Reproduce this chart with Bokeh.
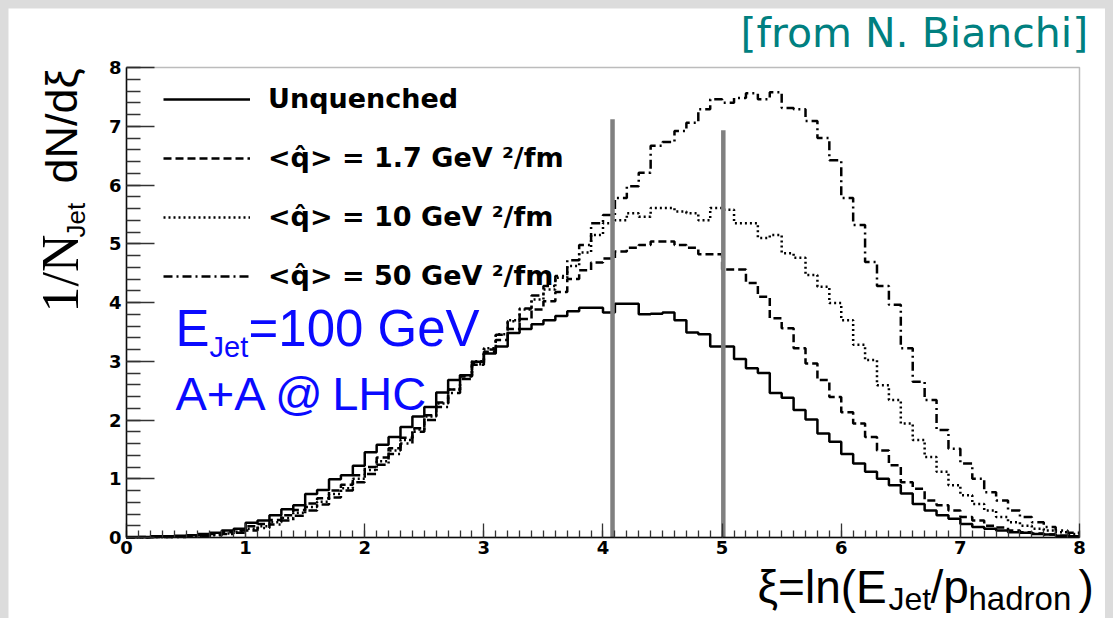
import math
from bokeh.plotting import figure
from bokeh.models import (Label, Legend, LegendItem, Range1d, SingleIntervalTicker,
                          LinearAxis, BoxAnnotation)
from bokeh.embed import file_html
from bokeh.resources import INLINE

# ---------------- data (histogram bins, width 0.1, left edges 0.0 .. 7.9) ----------------
bin_edges = [round(0.1 * i, 1) for i in range(81)]

unquenched = [
    0.01, 0.01, 0.02, 0.02, 0.03, 0.04, 0.06, 0.08, 0.12, 0.15,
    0.25, 0.29, 0.38, 0.48, 0.55, 0.74, 0.81, 0.99, 1.06, 1.22,
    1.45, 1.58, 1.71, 1.88, 2.06, 2.22, 2.47, 2.68, 2.76, 2.99,
    3.13, 3.25, 3.48, 3.55, 3.63, 3.70, 3.77, 3.85, 3.91, 3.91,
    3.83, 3.98, 3.98, 3.80, 3.81, 3.83, 3.70, 3.49, 3.46, 3.25,
    3.25, 3.04, 2.88, 2.80, 2.46, 2.38, 2.17, 2.01, 1.77, 1.63,
    1.42, 1.26, 1.12, 1.00, 0.89, 0.75, 0.57, 0.46, 0.38, 0.32,
    0.23, 0.18, 0.15, 0.12, 0.09, 0.08, 0.06, 0.05, 0.03, 0.02]

qhat_1p7 = [
    0.00, 0.01, 0.01, 0.02, 0.02, 0.03, 0.04, 0.06, 0.09, 0.12,
    0.19, 0.23, 0.30, 0.38, 0.47, 0.58, 0.67, 0.80, 0.90, 1.06,
    1.20, 1.36, 1.52, 1.70, 1.86, 2.08, 2.30, 2.52, 2.74, 2.94,
    3.16, 3.36, 3.55, 3.72, 3.88, 4.02, 4.18, 4.40, 4.55, 4.68,
    4.75, 4.87, 4.93, 4.98, 5.04, 5.04, 4.98, 4.93, 4.82, 4.82,
    4.56, 4.56, 4.33, 4.10, 3.73, 3.56, 3.22, 2.96, 2.68, 2.39,
    2.13, 1.94, 1.71, 1.48, 1.23, 0.94, 0.83, 0.63, 0.55, 0.46,
    0.35, 0.29, 0.20, 0.17, 0.12, 0.09, 0.07, 0.05, 0.03, 0.02]

qhat_10 = [
    0.00, 0.00, 0.01, 0.01, 0.02, 0.02, 0.03, 0.05, 0.07, 0.10,
    0.15, 0.19, 0.26, 0.33, 0.42, 0.52, 0.61, 0.74, 0.84, 1.00,
    1.15, 1.30, 1.48, 1.66, 1.84, 2.06, 2.28, 2.52, 2.76, 3.00,
    3.22, 3.46, 3.70, 3.88, 4.05, 4.22, 4.42, 4.62, 4.85, 5.15,
    5.35, 5.40, 5.52, 5.46, 5.61, 5.61, 5.55, 5.52, 5.40, 5.61,
    5.58, 5.35, 5.35, 5.10, 5.15, 4.84, 4.76, 4.47, 4.27, 3.99,
    3.70, 3.28, 3.02, 2.59, 2.34, 1.94, 1.66, 1.37, 1.12, 0.89,
    0.72, 0.57, 0.46, 0.35, 0.26, 0.20, 0.15, 0.12, 0.09, 0.06]

qhat_50 = [
    0.00, 0.00, 0.01, 0.01, 0.01, 0.02, 0.02, 0.04, 0.06, 0.08,
    0.12, 0.16, 0.22, 0.29, 0.37, 0.46, 0.56, 0.68, 0.80, 0.94,
    1.08, 1.24, 1.42, 1.60, 1.80, 2.00, 2.22, 2.46, 2.70, 2.95,
    3.20, 3.45, 3.68, 3.90, 4.12, 4.28, 4.45, 4.72, 4.98, 5.35,
    5.49, 5.78, 5.98, 6.21, 6.67, 6.73, 6.92, 7.06, 7.29, 7.46,
    7.40, 7.48, 7.56, 7.46, 7.58, 7.31, 7.29, 7.09, 6.80, 6.42,
    5.78, 5.32, 4.69, 4.28, 3.96, 3.22, 2.65, 2.34, 1.83, 1.51,
    1.26, 1.00, 0.77, 0.63, 0.46, 0.35, 0.26, 0.18, 0.12, 0.08]

series_labels = ["Unquenched",
                 "<q\u0302> = 1.7 GeV \u00b2/fm",
                 "<q\u0302> = 10 GeV \u00b2/fm",
                 "<q\u0302> = 50 GeV \u00b2/fm"]

# grey marker lines (xi position, top value)
marker_x = [4.08, 5.01]
marker_top = [7.12, 6.93]

# ---------------- figure ----------------
# whole canvas is the frame; the ROOT-style box [0,8]x[0,8] sits inside it
W, H = 1097, 610
p = figure(width=W, height=H, min_border=0,
           x_range=Range1d(-0.99055, 8.21826), y_range=Range1d(-1.37872, 9.00426),
           x_axis_location=None, y_axis_location=None,
           output_backend="svg", toolbar_location=None,
           background_fill_color="white", border_fill_color="white")
p.title.visible = False
p.grid.visible = False
p.outline_line_color = None

xaxis = LinearAxis(fixed_location=0, bounds=(0, 8),
                   ticker=SingleIntervalTicker(interval=1, num_minor_ticks=10))
yaxis = LinearAxis(fixed_location=0, bounds=(0, 8),
                   ticker=SingleIntervalTicker(interval=1, num_minor_ticks=5))
for ax in (xaxis, yaxis):
    ax.axis_line_color = "black"
    ax.axis_line_width = 1.5
    ax.major_tick_out = 0
    ax.minor_tick_out = 0
    ax.major_tick_line_color = "#333333"
    ax.minor_tick_line_color = "#333333"
    ax.major_tick_line_width = 1.3
    ax.minor_tick_line_width = 1.3
    ax.major_label_text_font = "DejaVu Sans"
    ax.major_label_text_font_style = "bold"
    ax.major_label_text_font_size = "18px"
    ax.major_label_text_color = "black"
xaxis.major_tick_in = 14
xaxis.minor_tick_in = 7
xaxis.major_label_standoff = 3
yaxis.major_tick_in = 28
yaxis.minor_tick_in = 14
yaxis.major_label_standoff = 5
p.add_layout(xaxis, "below")
p.add_layout(yaxis, "left")

p.add_layout(BoxAnnotation(left=0, right=8, bottom=0, top=8, fill_alpha=0,
                           line_color="#222222", line_width=1.5))

def stepped(vals):
    return list(vals) + [vals[-1]]

styles = [dict(line_dash="solid"),
          dict(line_dash="8 4"),
          dict(line_dash="2 3"),
          dict(line_dash="9 4 2 4")]
renderers = []
for vals, st in zip([unquenched, qhat_1p7, qhat_10, qhat_50], styles):
    r = p.step(x=bin_edges, y=stepped(vals), mode="after",
               line_color="black", line_width=2.5, **st)
    renderers.append(r)

p.segment(x0=marker_x, y0=[0, 0], x1=marker_x, y1=marker_top,
          line_color="#808080", line_width=4.5)

legend = Legend(items=[LegendItem(label=l, renderers=[r]) for l, r in zip(series_labels, renderers)],
                location=(155, 327), padding=0, margin=0,
                glyph_width=87, glyph_height=30, label_height=30,
                label_standoff=18, spacing=28,
                background_fill_alpha=0, border_line_alpha=0,
                label_text_font="DejaVu Sans", label_text_font_style="bold",
                label_text_font_size="27px", label_text_color="black")
p.add_layout(legend, "center")

# helper: page pixel (baseline start) -> canvas units (figure sits at page (8, 8));
# a size-proportional correction compensates for where the baseline lands.
OX, OY = 8, 8
def L(text, px, py, size, color="black", font="Liberation Sans", rotated=False):
    if rotated:
        x, y, ang = px - OX - 0.42 * size, py - OY, math.pi / 2
    else:
        x, y, ang = px - OX, py - OY - 0.37 * size, 0
    p.add_layout(Label(x=x, y=y, x_units="canvas", y_units="canvas",
                       text=text, text_font=font, text_font_size=f"{size}px",
                       text_color=color, angle=ang,
                       text_align="left", text_baseline="alphabetic"))

# title
L("[from N. Bianchi]", 740, 48, 41, color="#008080", font="DejaVu Sans")

# blue annotations
blue = "#0a0aff"
L("E", 175, 347, 51, color=blue)
L("Jet", 209, 357, 29, color=blue)
L("=100 GeV", 248, 347, 51, color=blue)
L("A+A\u2009@\u2009LHC", 175, 410, 47, color=blue)

# y axis title (rotated)
L("1/N", 82, 312, 52, font="Liberation Serif", rotated=True)
L("Jet", 86, 237, 26, rotated=True)
L("dN/d\u03be", 80, 183, 45, rotated=True)

# x axis title
L("\u03be=ln(E", 757, 604, 46)
L("Jet", 888, 610, 32)
L("/p", 930, 604, 46)
L("hadron", 968, 610, 33)
L(")", 1078, 604, 46)

html = file_html(p, INLINE)
html = html.replace("<head>",
                    "<head><style>html {background:#dcdcdc !important;} "
                    "body {background:#dcdcdc !important; padding:8px 8px 0 8px !important; margin:0 !important;}</style>", 1)
open("out.html", "w").write(html)
